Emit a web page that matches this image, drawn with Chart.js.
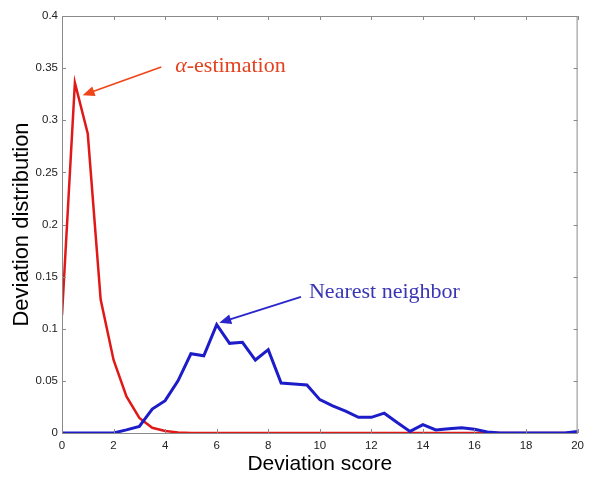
<!DOCTYPE html>
<html>
<head>
<meta charset="utf-8">
<script src="https://cdn.jsdelivr.net/npm/chart.js@4/dist/chart.umd.min.js"></script>
<style>
  body { margin: 0; background: #fff; }
  #wrap { width: 590px; height: 477px; }
</style>
</head>
<body>
<div id="wrap"><canvas id="chart" width="590" height="477"></canvas></div>
<script>
// deviation score sampled every 0.5
const scores = [0, 0.5, 1, 1.5, 2, 2.5, 3, 3.5, 4, 4.5, 5, 5.5, 6, 6.5, 7, 7.5, 8, 8.5, 9, 9.5,
  10, 10.5, 11, 11.5, 12, 12.5, 13, 13.5, 14, 14.5, 15, 15.5, 16, 16.5, 17, 17.5, 18, 18.5, 19, 19.5, 20];

const alphaEstimation = [0.113, 0.336, 0.287, 0.128, 0.070, 0.035, 0.0145, 0.005, 0.002, 0.0005, 0,
  0, 0, 0, 0, 0, 0, 0, 0, 0, 0, 0, 0, 0, 0, 0, 0, 0, 0, 0, 0, 0, 0, 0, 0, 0, 0, 0, 0, 0, 0];

const nearestNeighbor = [0, 0, 0, 0, 0, 0.003, 0.0064, 0.023, 0.031, 0.050, 0.076, 0.074, 0.104, 0.086,
  0.087, 0.070, 0.080, 0.048, 0.047, 0.046, 0.032, 0.026, 0.021, 0.015, 0.015, 0.019, 0.010, 0.0015,
  0.008, 0.003, 0.004, 0.005, 0.0035, 0.001, 0, 0, 0, 0, 0, 0, 0.0015];

const xTicks = [0, 2, 4, 6, 8, 10, 12, 14, 16, 18, 20];
const yTicks = [0, 0.05, 0.1, 0.15, 0.2, 0.25, 0.3, 0.35, 0.4];

// annotation anchors, in data units
const notes = [
  { parts: [['α', 'italic '], ['-estimation', '']], color: '#e4421e', arrow: '#f04418', width: 1.6,
    at: [4.39, 0.3464], tail: [3.85, 0.351], tip: [0.8, 0.324] },
  { parts: [['Nearest neighbor', '']], color: '#3a36b4', arrow: '#2a26cc', width: 1.8,
    at: [9.58, 0.1296], tail: [9.27, 0.1306], tip: [6.1, 0.1057] }
];

const pts = (ys) => scores.map((x, i) => ({ x: x, y: ys[i] }));

const boxPlugin = {
  id: 'box',
  afterDraw(chart) {
    const { ctx, chartArea: a, scales } = chart;
    ctx.save();
    ctx.strokeStyle = '#8a8a8a';
    ctx.lineWidth = 1;
    ctx.strokeRect(a.left + 0.5, a.top + 0.5, a.right - a.left - 1, a.bottom - a.top);
    ctx.beginPath();
    xTicks.forEach(v => {
      const px = Math.round(scales.x.getPixelForValue(v)) + 0.5;
      ctx.moveTo(px, a.bottom); ctx.lineTo(px, a.bottom - 4);
      ctx.moveTo(px, a.top); ctx.lineTo(px, a.top + 4);
    });
    yTicks.forEach(v => {
      const py = Math.round(scales.y.getPixelForValue(v)) + 0.5;
      ctx.moveTo(a.left, py); ctx.lineTo(a.left + 4, py);
      ctx.moveTo(a.right, py); ctx.lineTo(a.right - 4, py);
    });
    ctx.stroke();

    notes.forEach(n => {
      const tx = scales.x.getPixelForValue(n.tail[0]), ty = scales.y.getPixelForValue(n.tail[1]);
      const hx = scales.x.getPixelForValue(n.tip[0]), hy = scales.y.getPixelForValue(n.tip[1]);
      const ang = Math.atan2(hy - ty, hx - tx);
      ctx.strokeStyle = n.arrow;
      ctx.fillStyle = n.arrow;
      ctx.lineWidth = n.width;
      ctx.beginPath();
      ctx.moveTo(tx, ty);
      ctx.lineTo(hx - 8 * Math.cos(ang), hy - 8 * Math.sin(ang));
      ctx.stroke();
      ctx.beginPath();
      ctx.moveTo(hx, hy);
      ctx.lineTo(hx - 12 * Math.cos(ang) + 5 * Math.sin(ang), hy - 12 * Math.sin(ang) - 5 * Math.cos(ang));
      ctx.lineTo(hx - 12 * Math.cos(ang) - 5 * Math.sin(ang), hy - 12 * Math.sin(ang) + 5 * Math.cos(ang));
      ctx.closePath();
      ctx.fill();

      let x = scales.x.getPixelForValue(n.at[0]);
      const y = scales.y.getPixelForValue(n.at[1]);
      ctx.fillStyle = n.color;
      ctx.textBaseline = 'alphabetic';
      ctx.textAlign = 'left';
      n.parts.forEach(([txt, style]) => {
        ctx.font = style + '22px "Liberation Serif", "Times New Roman", serif';
        ctx.fillText(txt, x, y);
        x += ctx.measureText(txt).width;
      });
    });
    ctx.restore();
  }
};

new Chart(document.getElementById('chart'), {
  type: 'line',
  data: {
    datasets: [
      { label: 'Nearest neighbor', data: pts(nearestNeighbor), borderColor: '#1c1cc8',
        borderWidth: 3, pointRadius: 0, tension: 0, order: 0 },
      { label: 'α-estimation', data: pts(alphaEstimation), borderColor: '#e01818',
        borderWidth: 2.5, pointRadius: 0, tension: 0, order: 1 }
    ]
  },
  options: {
    responsive: false,
    animation: false,
    layout: { padding: { left: 0, top: 16, right: 4, bottom: 0 } },
    plugins: { legend: { display: false }, tooltip: { enabled: false } },
    scales: {
      x: {
        type: 'linear', min: 0, max: 20,
        afterBuildTicks: s => { s.ticks = xTicks.map(v => ({ value: v })); },
        afterFit: s => { s.height = 44; },
        grid: { display: false, drawTicks: false, tickLength: 0 },
        border: { display: false },
        ticks: { padding: 6, color: '#222', font: { family: '"Liberation Sans", Arial, sans-serif', size: 11.5 }, maxRotation: 0 },
        title: { display: true, text: 'Deviation score', color: '#000', padding: { top: 0, bottom: 0 },
          font: { family: '"Liberation Sans", Arial, sans-serif', size: 21 } }
      },
      y: {
        type: 'linear', min: 0, max: 0.4,
        afterBuildTicks: s => { s.ticks = yTicks.map(v => ({ value: v })); },
        afterFit: s => { s.width = 62; },
        grid: { display: false, drawTicks: false, tickLength: 0 },
        border: { display: false },
        ticks: { padding: 4, color: '#222', font: { family: '"Liberation Sans", Arial, sans-serif', size: 11.5 },
          callback: v => String(+v.toFixed(2)) },
        title: { display: true, text: 'Deviation distribution', color: '#000', padding: { top: 9, bottom: 0 },
          font: { family: '"Liberation Sans", Arial, sans-serif', size: 22 } }
      }
    }
  },
  plugins: [boxPlugin]
});
</script>
</body>
</html>
